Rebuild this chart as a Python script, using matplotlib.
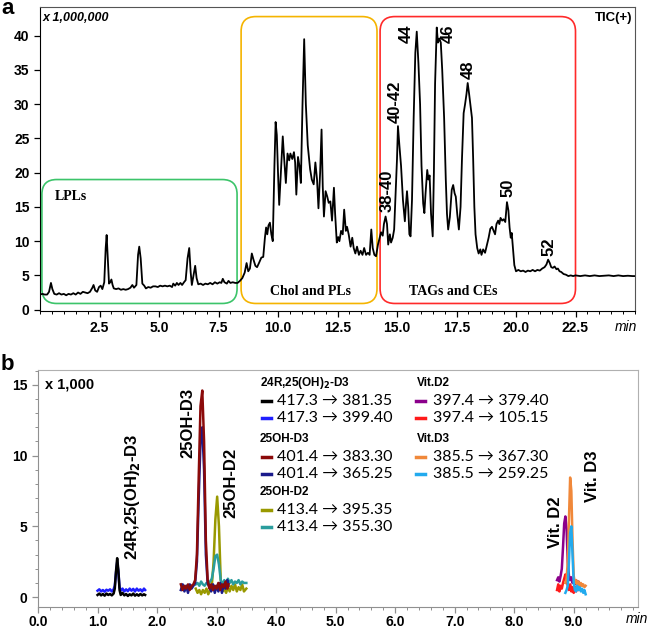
import matplotlib
matplotlib.use('Agg')
import matplotlib.pyplot as plt
from matplotlib.patches import FancyBboxPatch
from matplotlib.lines import Line2D
from matplotlib.ticker import MultipleLocator, FormatStrFormatter

# ---- panel a: TIC(+) trace (x 1,000,000 counts vs min) ----
tic_t = [0.0, 0.1, 0.2, 0.3, 0.38, 0.46, 0.52, 0.6, 0.7, 0.8, 0.9, 1.0, 1.1, 1.2, 1.3, 1.4, 1.5, 1.6, 1.7, 1.8,
         1.9, 2.0, 2.1, 2.2, 2.25, 2.32, 2.4, 2.48, 2.55, 2.62, 2.7, 2.76, 2.8, 2.85, 2.9, 2.95, 3.0, 3.05, 3.1, 3.2,
         3.3, 3.4, 3.5, 3.6, 3.7, 3.8, 3.88, 3.95, 4.05, 4.12, 4.17, 4.23, 4.3, 4.38, 4.45, 4.55, 4.65, 4.75, 4.85, 4.95,
         5.05, 5.15, 5.25, 5.35, 5.45, 5.55, 5.6, 5.68, 5.75, 5.82, 5.9, 5.97, 6.05, 6.12, 6.2, 6.27, 6.33, 6.38, 6.45, 6.52,
         6.58, 6.65, 6.75, 6.85, 6.95, 7.05, 7.15, 7.25, 7.35, 7.45, 7.55, 7.62, 7.68, 7.75, 7.85, 7.92, 8.0, 8.1, 8.2, 8.3,
         8.4, 8.5, 8.6, 8.68, 8.75, 8.82, 8.9, 8.97, 9.05, 9.12, 9.2, 9.3, 9.38, 9.45, 9.5, 9.55, 9.6, 9.66, 9.72, 9.78,
         9.85, 9.9, 9.95, 10.0, 10.05, 10.12, 10.2, 10.25, 10.33, 10.4, 10.47, 10.52, 10.6, 10.67, 10.72, 10.77, 10.84, 10.9, 10.96, 11.03,
         11.1, 11.17, 11.25, 11.35, 11.42, 11.5, 11.57, 11.64, 11.7, 11.77, 11.83, 11.88, 11.93, 12.0, 12.07, 12.13, 12.2, 12.27, 12.35, 12.4,
         12.47, 12.53, 12.58, 12.65, 12.72, 12.78, 12.85, 12.9, 12.97, 13.05, 13.12, 13.18, 13.25, 13.32, 13.4, 13.47, 13.55, 13.62, 13.7, 13.78,
         13.85, 13.92, 13.98, 14.05, 14.12, 14.2, 14.27, 14.33, 14.4, 14.45, 14.52, 14.58, 14.63, 14.7, 14.75, 14.82, 14.88, 14.93, 15.0, 15.04,
         15.1, 15.17, 15.25, 15.33, 15.38, 15.42, 15.47, 15.52, 15.57, 15.63, 15.7, 15.77, 15.83, 15.9, 15.97, 16.03, 16.1, 16.15, 16.2, 16.27,
         16.32, 16.37, 16.43, 16.5, 16.55, 16.6, 16.67, 16.72, 16.78, 16.84, 16.9, 16.98, 17.05, 17.1, 17.15, 17.22, 17.3, 17.36, 17.42, 17.47,
         17.53, 17.6, 17.67, 17.73, 17.8, 17.86, 17.92, 17.97, 18.03, 18.08, 18.15, 18.2, 18.25, 18.3, 18.37, 18.43, 18.5, 18.55, 18.62, 18.7,
         18.78, 18.85, 18.92, 18.99, 19.05, 19.12, 19.18, 19.25, 19.3, 19.35, 19.42, 19.48, 19.55, 19.62, 19.68, 19.73, 19.78, 19.82, 19.87, 19.93,
         20.0, 20.1, 20.2, 20.3, 20.4, 20.5, 20.6, 20.7, 20.8, 20.9, 21.0, 21.1, 21.2, 21.28, 21.35, 21.42, 21.48, 21.55, 21.62, 21.7,
         21.76, 21.83, 21.9, 22.0, 22.1, 22.2, 22.3, 22.4, 22.5, 22.7, 22.9, 23.1, 23.3, 23.5, 23.7, 23.9, 24.1, 24.3, 24.5, 24.7,
         24.9, 25.0]
tic_y = [2.2, 2.3, 2.2, 2.2, 2.6, 3.9, 3.0, 2.3, 2.2, 2.4, 2.2, 2.3, 2.1, 2.3, 2.2, 2.4, 2.2, 2.5, 2.3, 2.6,
         2.5, 2.4, 2.6, 3.2, 3.6, 2.8, 2.6, 3.3, 3.5, 3.0, 4.0, 9.0, 10.9, 7.5, 3.8, 4.0, 4.4, 3.6, 3.1, 3.0,
         3.1, 2.9, 3.0, 2.9, 3.0, 3.2, 3.6, 3.2, 3.6, 8.0, 9.2, 7.5, 3.8, 3.5, 3.1, 3.3, 3.2, 3.4, 3.4, 3.3,
         3.5, 3.4, 3.5, 3.4, 3.5, 3.3, 3.8, 3.5, 3.9, 3.6, 3.9, 3.6, 4.0, 4.3, 7.5, 9.0, 5.5, 3.6, 5.0, 6.4,
         4.6, 3.7, 3.8, 3.6, 3.8, 3.7, 3.9, 3.7, 4.0, 3.8, 4.0, 3.9, 4.5, 4.0, 3.8, 4.2, 3.9, 4.0, 3.9, 3.9,
         4.2, 4.6, 5.4, 6.8, 5.6, 6.0, 8.2, 7.3, 6.4, 6.2, 6.8, 7.6, 7.7, 10.5, 12.0, 11.0, 12.3, 12.7, 11.0, 10.0,
         21.0, 27.4, 25.5, 20.0, 15.3, 20.0, 25.3, 22.5, 18.5, 22.8, 21.8, 22.8, 22.0, 23.0, 21.5, 16.8, 22.3, 21.0, 18.5, 30.0,
         39.5, 30.0, 24.0, 20.5, 19.0, 18.3, 21.5, 19.0, 14.8, 20.0, 26.3, 18.0, 13.6, 17.3, 16.5, 15.6, 15.8, 13.0, 17.8, 14.0,
         9.8, 10.6, 10.0, 11.5, 11.0, 14.6, 11.5, 12.1, 11.0, 9.2, 10.5, 9.0, 8.2, 9.2, 8.0, 8.6, 8.0, 9.0, 8.0, 8.3,
         8.0, 11.7, 9.0, 8.0, 7.8, 9.5, 10.5, 11.3, 10.8, 12.5, 13.6, 12.5, 9.5, 11.0, 9.8, 10.5, 11.7, 16.0, 22.0, 26.8,
         24.0, 21.0, 16.0, 12.9, 15.5, 17.3, 15.0, 11.0, 10.7, 16.0, 28.0, 37.5, 40.6, 36.0, 30.0, 21.0, 15.5, 14.1, 17.0, 20.4,
         19.0, 19.6, 14.0, 10.7, 20.0, 33.0, 41.2, 39.0, 39.6, 39.0, 35.0, 28.0, 19.0, 14.0, 11.7, 13.5, 17.5, 18.2, 17.0, 16.5,
         14.0, 11.7, 15.0, 22.0, 28.7, 30.0, 31.5, 33.1, 31.5, 30.0, 28.0, 22.0, 15.0, 11.0, 9.0, 8.2, 8.8, 8.0, 8.8, 8.3,
         9.5, 10.5, 11.8, 12.1, 11.6, 11.0, 12.5, 13.0, 12.5, 13.4, 13.0, 13.2, 12.8, 15.7, 14.5, 12.0, 10.5, 11.2, 9.0, 6.5,
         5.6, 5.8, 5.6, 5.7, 5.5, 5.7, 5.6, 5.8, 5.6, 5.8, 5.7, 6.0, 6.2, 6.6, 7.3, 6.8, 6.2, 6.1, 6.3, 5.9,
         6.0, 5.6, 5.5, 5.2, 5.1, 4.9, 5.0, 4.9, 5.0, 4.9, 5.0, 4.9, 5.0, 4.9, 4.95, 5.0, 4.9, 5.0, 4.9, 4.95,
         4.9, 4.9]

peak_labels = ['38-40', '40-42', '44', '46', '48', '50', '52']
peak_label_t = [14.58, 14.92, 15.4, 17.15, 17.98, 19.66, 21.4]
peak_label_y = [14.2, 27.3, 39.0, 39.0, 33.7, 16.5, 7.8]

# (label, x0, x1, y0, y1, colour)
regions = [('LPLs', 0.08, 8.28, 0.9, 19.0, '#3cc46a'),
           ('Chol and PLs', 8.45, 14.16, 0.9, 42.8, '#f5b400'),
           ('TAGs and CEs', 14.29, 22.5, 0.9, 42.8, '#ff2a2a')]

# ---- panel b: MRM traces (x 1,000 counts vs min) ----
g1_t = [1.00, 1.03, 1.06, 1.09, 1.12, 1.15, 1.18, 1.21, 1.24, 1.27, 1.29, 1.31, 1.33, 1.35, 1.37,
        1.39, 1.42, 1.45, 1.48, 1.51, 1.54, 1.57, 1.60, 1.63, 1.66, 1.69, 1.72, 1.75, 1.78, 1.80]
d24_a = [0.15, 0.25, 0.12, 0.22, 0.10, 0.25, 0.15, 0.22, 0.12, 0.25, 0.6, 1.8, 2.75, 1.9, 0.5,
         0.15, 0.3, 0.12, 0.22, 0.08, 0.2, 0.12, 0.25, 0.1, 0.2, 0.1, 0.22, 0.12, 0.2, 0.15]
d24_b = [0.45, 0.55, 0.4, 0.5, 0.38, 0.52, 0.45, 0.55, 0.4, 0.55, 0.8, 1.7, 2.45, 1.8, 0.7,
         0.45, 0.6, 0.4, 0.55, 0.42, 0.6, 0.45, 0.58, 0.4, 0.6, 0.45, 0.55, 0.4, 0.6, 0.5]

g2_t = [2.40, 2.43, 2.46, 2.49, 2.52, 2.55, 2.58, 2.61, 2.64, 2.67, 2.70, 2.73, 2.76, 2.79,
        2.82, 2.85, 2.88, 2.91, 2.94, 2.97, 3.00, 3.03, 3.06, 3.09, 3.12, 3.15, 3.18, 3.20]
d3_a = [0.9, 0.5, 0.8, 0.6, 0.9, 0.5, 0.8, 0.9, 1.2, 3.0, 8.5, 13.5, 14.6, 11.0,
        4.0, 1.2, 0.6, 0.9, 0.5, 0.8, 0.6, 1.0, 0.5, 0.9, 0.7, 1.1, 0.6, 0.9]
d3_b = [0.5, 0.9, 0.4, 0.8, 0.3, 0.9, 0.6, 0.8, 1.0, 2.5, 7.0, 11.0, 12.0, 9.0,
        3.0, 1.0, 0.7, 0.4, 0.9, 0.3, 0.8, 0.4, 1.0, 0.3, 0.9, 0.6, 1.2, 0.8]

g3_t = [2.65, 2.68, 2.71, 2.74, 2.77, 2.80, 2.83, 2.86, 2.89, 2.92, 2.95, 2.98, 3.01, 3.04, 3.07,
        3.10, 3.13, 3.16, 3.19, 3.22, 3.25, 3.28, 3.31, 3.34, 3.37, 3.40, 3.43, 3.46, 3.50]
d2_a = [0.6, 0.3, 0.5, 0.2, 0.5, 0.3, 0.6, 0.2, 0.5, 0.8, 2.5, 5.5, 7.1, 5.0, 1.2,
        0.4, 0.6, 0.3, 0.7, 0.4, 0.8, 0.5, 0.9, 0.4, 0.7, 0.5, 0.9, 0.4, 0.6]
d2_b = [0.9, 1.0, 0.8, 1.1, 0.9, 0.8, 1.0, 0.9, 1.1, 1.3, 2.0, 2.9, 3.0, 2.3, 1.2,
        0.9, 1.2, 0.9, 1.3, 1.0, 1.2, 0.9, 1.1, 1.0, 1.2, 0.9, 1.1, 1.0, 1.0]

g4_t = [8.72, 8.74, 8.76, 8.78, 8.80, 8.82, 8.84, 8.86, 8.88, 8.90,
        8.92, 8.94, 8.96, 8.98, 9.00, 9.02, 9.04, 9.06, 9.08, 9.10]
vd2_a = [1.2, 1.4, 1.1, 1.5, 2.0, 3.5, 5.2, 5.7, 4.8, 2.5, 1.5, 1.2, 1.4, 1.0, 1.3, 0.9, 1.2, 0.8, 1.1, 0.9]
vd2_b = [0.5, 0.9, 0.4, 0.8, 0.6, 1.0, 1.3, 1.6, 1.2, 0.8, 0.5, 0.9, 0.4, 0.7, 0.3, 0.7, 0.4, 0.8, 0.5, 0.6]

g5_t = [8.86, 8.88, 8.90, 8.92, 8.94, 8.96, 8.98, 9.00, 9.02, 9.04, 9.06, 9.08, 9.10, 9.12, 9.14, 9.16, 9.18, 9.20]
vd3_a = [1.0, 1.3, 2.5, 5.5, 8.45, 7.5, 4.0, 1.5, 1.0, 1.2, 0.8, 1.1, 0.7, 1.0, 0.8, 0.9, 0.7, 0.8]
vd3_b = [0.3, 0.5, 0.8, 2.5, 4.5, 5.0, 3.0, 1.0, 0.5, 0.4, 0.8, 0.5, 0.7, 0.4, 0.6, 0.3, 0.5, 0.2]

traces_b = [(g1_t, d24_b, '#1f1fff'), (g1_t, d24_a, '#000000'),
            (g3_t, d2_a, '#999900'), (g3_t, d2_b, '#2a9d9d'),
            (g2_t, d3_b, '#1a1a8c'), (g2_t, d3_a, '#8b0a0a'),
            (g4_t, vd2_b, '#ff1a1a'), (g4_t, vd2_a, '#8b008b'),
            (g5_t, vd3_a, '#f0883a'), (g5_t, vd3_b, '#22aaee')]

b_labels = [r'24R,25(OH)$_\mathbf{2}$-D3', '25OH-D3', '25OH-D2', 'Vit. D2', 'Vit. D3']
b_label_t = [1.58, 2.52, 3.24, 8.69, 9.31]
b_label_y = [2.6, 9.85, 5.6, 3.5, 6.7]

legend_groups = [
    (r'24R,25(OH)$_\mathbf{2}$-D3', ['417.3 \u2192 381.35', '417.3 \u2192 399.40'], ['#000000', '#1f1fff']),
    ('25OH-D3', ['401.4 \u2192 383.30', '401.4 \u2192 365.25'], ['#8b0a0a', '#1a1a8c']),
    ('25OH-D2', ['413.4 \u2192 395.35', '413.4 \u2192 355.30'], ['#999900', '#2a9d9d']),
    ('Vit.D2', ['397.4 \u2192 379.40', '397.4 \u2192 105.15'], ['#8b008b', '#ff1a1a']),
    ('Vit.D3', ['385.5 \u2192 367.30', '385.5 \u2192 259.25'], ['#f0883a', '#22aaee']),
]

W, H = 649, 628
plt.rcParams['font.family'] = ['Liberation Sans', 'DejaVu Sans']
fig = plt.figure(figsize=(W / 100, H / 100), dpi=100)


def fx(x):
    return x / W


def fy(y):
    return 1 - y / H


def style_axes(ax, spine_col, tick_col, pad):
    for s in ['top', 'right']:
        ax.spines[s].set_color(spine_col)
    for s in ['left', 'bottom']:
        ax.spines[s].set_color(tick_col)
    ax.tick_params(which='both', direction='out', colors=tick_col, labelcolor='black', labelsize=10)
    ax.tick_params(which='major', length=4, width=0.9)
    ax.tick_params(which='minor', length=2.5, width=0.7)
    ax.tick_params(axis='x', pad=pad)
    for lab in ax.get_xticklabels() + ax.get_yticklabels():
        lab.set_fontweight('bold')


# ---------------- panel a ----------------
ax1 = fig.add_axes([fx(40), fy(311), fx(635 - 40), (311 - 7) / H])
ax1.plot(tic_t, tic_y, color='black', lw=1.3)
ax1.set_xlim(0, 25)
ax1.set_ylim(-0.2, 44.2)
ax1.set_xticks([2.5, 5.0, 7.5, 10.0, 12.5, 15.0, 17.5, 20.0, 22.5])
ax1.xaxis.set_major_formatter(FormatStrFormatter('%.1f'))
ax1.xaxis.set_minor_locator(MultipleLocator(0.5))
ax1.set_yticks(range(0, 41, 5))
style_axes(ax1, '#555555', 'black', 3.5)

# rounded region boxes; keep corners circular in pixels
bb = ax1.get_window_extent()
aspect = (44.4 / bb.height) / (25 / bb.width)
for name, x0, x1, y0, y1, col in regions:
    box = FancyBboxPatch((x0, y0), x1 - x0, y1 - y0,
                         boxstyle='round,pad=0,rounding_size=0.62',
                         mutation_aspect=aspect, fill=False, ec=col, lw=1.2)
    ax1.add_patch(box)
ax1.text(0.63, 16.5, 'LPLs', family='Liberation Serif', fontweight='bold', fontsize=10, va='center')
ax1.text(11.35, 2.6, 'Chol and PLs', family='Liberation Serif', fontweight='bold', fontsize=10,
         ha='center', va='center')
ax1.text(17.35, 2.6, 'TAGs and CEs', family='Liberation Serif', fontweight='bold', fontsize=10,
         ha='center', va='center')

for lab, t, y in zip(peak_labels, peak_label_t, peak_label_y):
    ax1.text(t, y, lab, rotation=90, ha='center', va='bottom', fontsize=12, fontweight='bold')

ax1.text(0.005, 0.985, 'x 1,000,000', transform=ax1.transAxes, fontsize=9, fontweight='bold',
         style='italic', ha='left', va='top')
ax1.text(0.995, 0.985, 'TIC(+)', transform=ax1.transAxes, fontsize=9.5, fontweight='bold',
         ha='right', va='top')
fig.text(fx(637), fy(327), 'min', fontsize=10, style='italic', ha='right', va='center')
fig.text(fx(1), fy(9), 'a', fontsize=16, fontweight='bold', ha='left', va='center')

# ---------------- panel b ----------------
ax2 = fig.add_axes([fx(38), fy(607), fx(638 - 38), (607 - 370) / H])
for t, y, col in traces_b:
    ax2.plot(t, y, color=col, lw=1.8)
ax2.set_xlim(0, 10.08)
ax2.set_ylim(-0.7, 16.05)
ax2.set_xticks([0, 1, 2, 3, 4, 5, 6, 7, 8, 9])
ax2.xaxis.set_major_formatter(FormatStrFormatter('%.1f'))
ax2.xaxis.set_minor_locator(MultipleLocator(0.2))
ax2.set_yticks([0, 5, 10, 15])
ax2.yaxis.set_minor_locator(MultipleLocator(1))
style_axes(ax2, '#b0b0b0', '#909090', 1.5)

for lab, t, y in zip(b_labels, b_label_t, b_label_y):
    ax2.text(t, y, lab, rotation=90, ha='center', va='bottom', fontsize=12, fontweight='bold')

ax2.text(0.012, 0.97, 'x 1,000', transform=ax2.transAxes, fontsize=10.5, fontweight='bold',
         ha='left', va='top')
fig.text(fx(648), fy(619), 'min', fontsize=10, style='italic', ha='right', va='center')
fig.text(fx(1), fy(364), 'b', fontsize=16, fontweight='bold', ha='left', va='center')

# legend drawn as text blocks
col_x = [(260, 262, 277), (417, 416, 433)]   # header x, dash x, text x
group_rows = [(0, 383), (0, 439), (0, 492), (1, 383), (1, 439)]
for (hdr, entries, cols), (ci, hy) in zip(legend_groups, group_rows):
    hx, dx, tx = col_x[ci]
    fig.text(fx(hx), fy(hy), hdr, fontsize=8.5, fontweight='bold', ha='left', va='center')
    for k, (ent, c) in enumerate(zip(entries, cols)):
        ey = hy + 18 + 17 * k
        fig.add_artist(Line2D([fx(dx), fx(dx + 9)], [fy(ey), fy(ey)], color=c, lw=2.5,
                              transform=fig.transFigure))
        fig.text(fx(tx), fy(ey), ent, fontsize=11.5, family=['Lato', 'DejaVu Sans'],
                 ha='left', va='center')

plt.savefig('out.png', dpi=100)
